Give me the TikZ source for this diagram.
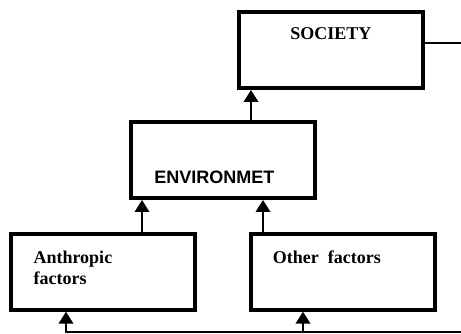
\documentclass[tikz,border=0pt]{standalone}
\usepackage{fontspec}
\setmainfont{Liberation Serif}
\newfontfamily\arialfont{Liberation Sans}
\usetikzlibrary{arrows.meta}

\tikzset{
  box/.style={draw,rectangle,line width=3pt,minimum width=138pt,minimum height=57pt,inner sep=0pt},
  boxtext/.style={font=\fontsize{13.5}{15.75}\selectfont\bfseries,inner sep=0pt},
  arrow/.style={line width=1pt,-{Triangle[length=9pt,width=11pt]}}
}

\begin{document}
\begin{tikzpicture}[x=0.75pt,y=-0.75pt]
  \useasboundingbox (0,0) rectangle (461,334);
  % boxes
  \node[box] (society) at (330.8,50) {};
  \node[box] (env)     at (222.5,160) {};
  \node[box] (anthro)  at (103,271.7) {};
  \node[box] (other)   at (342.5,271.7) {};
  % texts
  \node[boxtext,anchor=base] (societytext) at (330.8,40) {SOCIETY};
  \node[boxtext,anchor=base,font=\fontsize{13.5}{15.75}\selectfont\arialfont\bfseries] (envtext) at (214.3,183.3) {ENVIRONMET};
  \node[boxtext,anchor=base west,align=left] (anthrotext) at (33.3,284.3) {Anthropic\\factors};
  \node[boxtext,anchor=base west] (othertext) at (272.7,263.3) {Other~~factors};
  % arrow columns
  \coordinate (c1) at (251,0);
  \coordinate (c2) at (142,0);
  \coordinate (c3) at (263,0);
  \coordinate (c4) at (66,0);
  \coordinate (c5) at (303,0);
  \coordinate (out) at (461,43);
  \coordinate (in) at (461,332);
  % connectors
  \draw[arrow] (env.north -| c1) -- (society.south -| c1);
  \draw[arrow] (anthro.north -| c2) -- (env.south -| c2);
  \draw[arrow] (other.north -| c3) -- (env.south -| c3);
  \draw[line width=1pt] (society.east |- out) -- (out);
  \draw[arrow,line width=1.3pt] (in) -| (anthro.south -| c4);
  \draw[arrow,line width=1.3pt] (c5 |- in) -- (other.south -| c5);
\end{tikzpicture}
\end{document}
